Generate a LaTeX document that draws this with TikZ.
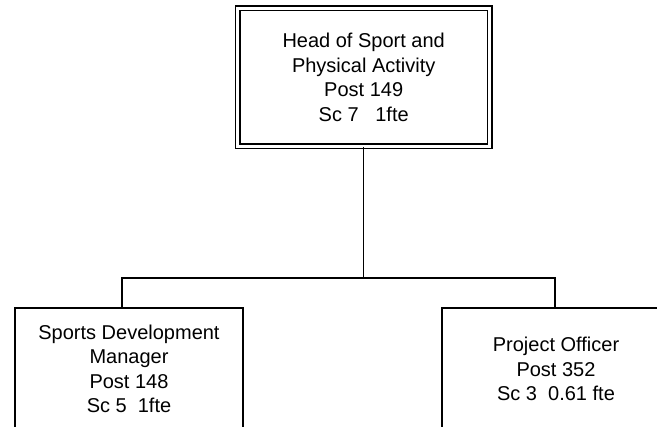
\documentclass[tikz,border=0pt]{standalone}
\usepackage{fontspec}
\setmainfont{Liberation Sans}
\begin{document}
\begin{tikzpicture}[x=1pt,y=-1pt,
  post/.style={draw, line width=1.3pt, align=center, inner sep=0pt,
    font=\fontsize{20}{24.5}\selectfont},
  headpost/.style={post, double, double distance=3.4pt, line width=1.2pt},
  link/.style={line width=1.3pt}]
  \clip (0,0) rectangle (657,427);
  % head of department
  \node[headpost, minimum width=252pt, minimum height=138pt] (head) at (363.7,77.3)
    {Head of Sport and\\Physical Activity\\Post 149\\Sc 7\ \ \ 1fte};
  % reporting posts (boxes run past the page edge)
  \node[post, minimum width=228pt, minimum height=122pt] (sdm) at (129,369)
    {Sports Development\\Manager\\Post 148\\Sc 5\ \ 1fte};
  \node[post, minimum width=228pt, minimum height=122pt] (po) at (556,369)
    {Project Officer\\Post 352\\Sc 3\ \ 0.61 fte};
  % connectors
  \coordinate (lj) at (122,278);
  \coordinate (rj) at (555,278);
  \draw[link] (head.south) -- (head.south |- lj);
  \draw[link] (sdm.north -| lj) -- (lj) -- (rj) -- (po.north -| rj);
\end{tikzpicture}
\end{document}
